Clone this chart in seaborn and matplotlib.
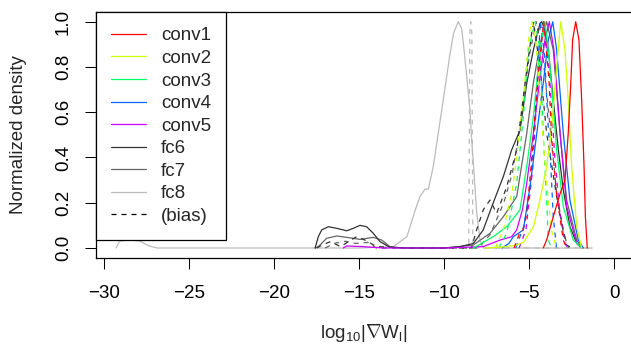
import matplotlib
matplotlib.use("Agg")
import matplotlib.pyplot as plt
import matplotlib.ticker as mticker
from matplotlib.lines import Line2D
import seaborn as sns

# ---- data (x = log10 |grad W|, y = normalized density) ----
layer_names = ["conv1", "conv2", "conv3", "conv4", "conv5", "fc6", "fc7", "fc8"]

conv1_w_x = [-4.18, -3.98, -3.59, -3.19, -2.9, -2.71, -2.56, -2.45, -2.27, -2.08, -1.92, -1.78, -1.7, -1.59]
conv1_w_y = [0.0, 0.035, 0.138, 0.24, 0.3, 0.507, 0.728, 0.92, 1.0, 0.92, 0.654, 0.36, 0.138, 0.0]
conv1_b_x = [-5.9, -5.6, -5.4, -5.15, -4.86, -4.5, -4.15, -3.85, -3.68, -3.4, -3.0, -2.8]
conv1_b_y = [0.0, 0.06, 0.07, 0.15, 0.39, 0.75, 1.0, 0.75, 0.48, 0.24, 0.035, 0.0]

conv2_w_x = [-7.6, -6.5, -5.8, -5.35, -4.76, -4.37, -3.98, -3.68, -3.39, -3.15, -2.9, -2.71, -2.51, -2.21, -1.92]
conv2_w_y = [0.0, 0.005, 0.012, 0.025, 0.094, 0.212, 0.36, 0.536, 0.8, 1.0, 0.875, 0.654, 0.36, 0.094, 0.0]
conv2_b_x = [-7.0, -6.53, -6.0, -5.74, -5.3, -5.0, -4.85, -4.6, -4.3, -4.0, -3.7, -3.4]
conv2_b_y = [0.0, 0.08, 0.25, 0.4, 0.7, 0.95, 1.0, 0.9, 0.6, 0.3, 0.08, 0.0]

conv3_w_x = [-8.29, -7.12, -6.33, -5.55, -5.15, -4.76, -4.37, -4.08, -3.78, -3.39, -3.0, -2.41, -1.92]
conv3_w_y = [0.0, 0.05, 0.094, 0.168, 0.36, 0.58, 0.875, 1.0, 0.8, 0.433, 0.183, 0.035, 0.0]
conv3_b_x = [-6.8, -6.33, -5.74, -5.35, -5.05, -4.66, -4.37, -4.18, -3.98, -3.88, -3.7]
conv3_b_y = [0.0, 0.065, 0.286, 0.58, 0.875, 1.0, 0.875, 0.507, 0.212, 0.035, 0.0]

conv4_w_x = [-6.6, -6.2, -5.94, -5.35, -4.96, -4.56, -4.18, -3.88, -3.62, -3.39, -3.0, -2.61, -2.12, -1.82]
conv4_w_y = [0.0, 0.02, 0.05, 0.08, 0.27, 0.507, 0.728, 0.92, 1.0, 0.875, 0.507, 0.212, 0.035, 0.0]
conv4_b_x = [-5.8, -5.3, -4.9, -4.6, -4.35, -4.1, -3.9, -3.78, -3.59, -3.4]
conv4_b_y = [0.0, 0.1, 0.3, 0.65, 1.0, 0.85, 0.55, 0.433, 0.138, 0.0]

conv5_w_x = [-15.94, -15.74, -14.76, -13.6, -10.0, -7.71, -6.72, -6.04, -5.74, -5.4, -5.15, -4.76, -4.37, -4.08,
             -3.82, -3.55, -3.19, -2.8, -2.21, -1.92]
conv5_w_y = [0.0, 0.009, 0.006, 0.0, 0.0, 0.006, 0.035, 0.05, 0.08, 0.17, 0.286, 0.507, 0.757, 0.92,
             1.0, 0.875, 0.507, 0.183, 0.02, 0.0]
conv5_b_x = [-5.6, -5.2, -4.8, -4.5, -4.15, -3.8, -3.5, -3.2, -2.9, -2.75]
conv5_b_y = [0.0, 0.08, 0.35, 0.75, 1.0, 0.75, 0.4, 0.15, 0.02, 0.0]

fc6_w_x = [-17.6, -17.41, -17.21, -16.82, -16.33, -15.74, -15.35, -14.96, -14.57, -14.18, -13.78, -13.2, -12.0,
           -10.0, -9.07, -8.29, -7.71, -7.12, -6.53, -6.04, -5.55, -5.15, -4.76, -4.37, -4.27, -4.1, -3.88,
           -3.59, -3.29, -3.0, -2.61, -2.21, -1.92]
fc6_w_y = [0.0, 0.05, 0.08, 0.094, 0.087, 0.076, 0.087, 0.1, 0.094, 0.065, 0.028, 0.003, 0.0,
           0.0, 0.006, 0.02, 0.08, 0.2, 0.315, 0.433, 0.52, 0.728, 0.875, 0.993, 1.0, 0.97, 0.875,
           0.654, 0.433, 0.256, 0.094, 0.02, 0.0]
fc6_b_x = [-17.5, -17.2, -16.7, -16.1, -15.5, -15.15, -14.67, -13.98, -12.0, -8.4, -8.1, -7.7, -7.31, -6.92,
           -6.33, -5.74, -5.25, -4.86, -4.76, -4.37, -3.98, -3.39, -3.0, -2.8, -2.5]
fc6_b_y = [0.0, 0.013, 0.028, 0.006, 0.035, 0.05, 0.035, 0.006, 0.0, 0.0, 0.08, 0.17, 0.212, 0.153,
           0.27, 0.433, 0.728, 0.95, 1.0, 0.8, 0.507, 0.227, 0.08, 0.013, 0.0]

fc7_w_x = [-17.6, -17.41, -16.92, -16.33, -15.74, -14.96, -14.18, -13.68, -13.2, -12.5, -10.0, -8.3, -7.31,
           -6.53, -5.74, -5.15, -4.76, -4.37, -3.98, -3.59, -3.19, -2.8, -2.21, -1.92]
fc7_w_y = [0.0, 0.006, 0.043, 0.053, 0.047, 0.038, 0.047, 0.035, 0.006, 0.0, 0.0, 0.013, 0.065,
           0.138, 0.227, 0.507, 0.73, 0.9, 1.0, 0.875, 0.507, 0.21, 0.035, 0.0]
fc7_b_x = [-17.0, -16.5, -15.8, -15.2, -14.5, -14.0, -12.0, -8.0, -7.3, -6.9, -6.5, -6.0, -5.5, -5.0, -4.6,
           -4.2, -3.8, -3.4, -3.0, -2.7]
fc7_b_y = [0.0, 0.02, 0.03, 0.02, 0.025, 0.0, 0.0, 0.0, 0.06, 0.13, 0.2, 0.33, 0.55, 0.85, 1.0,
           0.85, 0.55, 0.25, 0.07, 0.0]

fc8_w_x = [-29.31, -29.1, -28.5, -27.9, -27.4, -26.9, -20.0, -15.0, -13.0, -12.2, -11.7, -11.43, -11.14,
           -10.94, -10.65, -10.45, -10.15, -9.86, -9.66, -9.45, -9.18, -8.98, -8.88, -8.68, -8.49, -8.39,
           -8.29, -8.09, -7.9, -7.7, -5.0, -1.3]
fc8_w_y = [0.0, 0.03, 0.036, 0.03, 0.01, 0.0, 0.0, 0.0, 0.006, 0.05, 0.17, 0.227, 0.26,
           0.26, 0.36, 0.46, 0.61, 0.757, 0.86, 0.95, 1.0, 0.97, 0.905, 0.757, 0.61, 0.477,
           0.374, 0.153, 0.035, 0.0, 0.0, 0.0]
fc8_b_x = [-8.9, -8.56, -8.5, -8.45, -8.38, -8.32, -8.2, -5.0, -1.4]
fc8_b_y = [0.0, 0.0, 0.95, 1.0, 0.95, 0.0, 0.0, 0.0, 0.0]

weights_x = [conv1_w_x, conv2_w_x, conv3_w_x, conv4_w_x, conv5_w_x, fc6_w_x, fc7_w_x, fc8_w_x]
weights_y = [conv1_w_y, conv2_w_y, conv3_w_y, conv4_w_y, conv5_w_y, fc6_w_y, fc7_w_y, fc8_w_y]
bias_x = [conv1_b_x, conv2_b_x, conv3_b_x, conv4_b_x, conv5_b_x, fc6_b_x, fc7_b_x, fc8_b_x]
bias_y = [conv1_b_y, conv2_b_y, conv3_b_y, conv4_b_y, conv5_b_y, fc6_b_y, fc7_b_y, fc8_b_y]

x_ticks = [-30, -25, -20, -15, -10, -5, 0]
y_ticks = [0.0, 0.2, 0.4, 0.6, 0.8, 1.0]

# ---- style ----
colors = ["#FF0000", "#CCFF00", "#00FF66", "#0066FF", "#CC00FF", "#333333", "#666666", "#BBBBBB"]
dash = (0, (4, 4))
lw = 0.9
fs = 13.5

sns.set_style("white")
plt.rcParams["font.family"] = ["Liberation Sans", "DejaVu Sans"]
plt.rcParams["mathtext.fontset"] = "custom"
plt.rcParams["mathtext.rm"] = "Liberation Sans"
plt.rcParams["mathtext.it"] = "Liberation Sans:italic"

W, H = 631, 345
fig = plt.figure(figsize=(W / 100, H / 100), dpi=100)
# axes box in pixels: left 95.7, right 633, top 12.3, bottom 257.5
ax = fig.add_axes([95.7 / W, (H - 257.5) / H, (633 - 95.7) / W, (257.5 - 12.3) / H])

for i in reversed(range(len(layer_names))):
    sns.lineplot(x=weights_x[i], y=weights_y[i], color=colors[i], lw=lw,
                 estimator=None, sort=False, ax=ax)
    sns.lineplot(x=bias_x[i], y=bias_y[i], color=colors[i], lw=lw, linestyle=dash,
                 estimator=None, sort=False, ax=ax)

ax.set_xlim(-30.506, 1.1)
ax.set_ylim(-0.042, 1.0415)
ax.set_xticks(x_ticks)
ax.set_yticks(y_ticks)
ax.yaxis.set_major_formatter(mticker.FormatStrFormatter("%.1f"))
ax.xaxis.set_major_formatter(mticker.FuncFormatter(lambda v, p: f"{int(v)}".replace("-", "\u2212")))

ax.tick_params(axis="both", direction="out", length=8, width=0.75, color="black",
               labelsize=fs, labelcolor="black", bottom=True, left=True, top=False, right=False)
ax.tick_params(axis="x", pad=11.5)
ax.tick_params(axis="y", pad=9, labelrotation=90)
for lab in ax.get_yticklabels():
    lab.set_verticalalignment("center")

for side in ["left", "bottom", "top"]:
    ax.spines[side].set_color("black")
    ax.spines[side].set_linewidth(0.9)
ax.spines["right"].set_visible(False)

ax.set_xlabel(r"$\mathrm{log}_{10}|\nabla \mathrm{W}_{\mathrm{l}}|$", fontsize=fs)
ax.set_ylabel("Normalized density", fontsize=fs)
ax.xaxis.set_label_coords(0.4985, -0.265)
ax.yaxis.set_label_coords(-0.128, 0.5)

handles = [Line2D([], [], color=c, lw=lw) for c in colors]
handles.append(Line2D([], [], color="black", lw=lw, linestyle=dash))
leg = ax.legend(handles, layer_names + ["(bias)"], loc="upper left", bbox_to_anchor=(0, 1),
                borderaxespad=0, frameon=True, fancybox=False, edgecolor="black", framealpha=1,
                fontsize=fs, handlelength=1.87, handletextpad=0.8, labelspacing=0.29,
                borderpad=0.8)
leg.get_frame().set_linewidth(0.9)

fig.savefig("out.png", dpi=100)
